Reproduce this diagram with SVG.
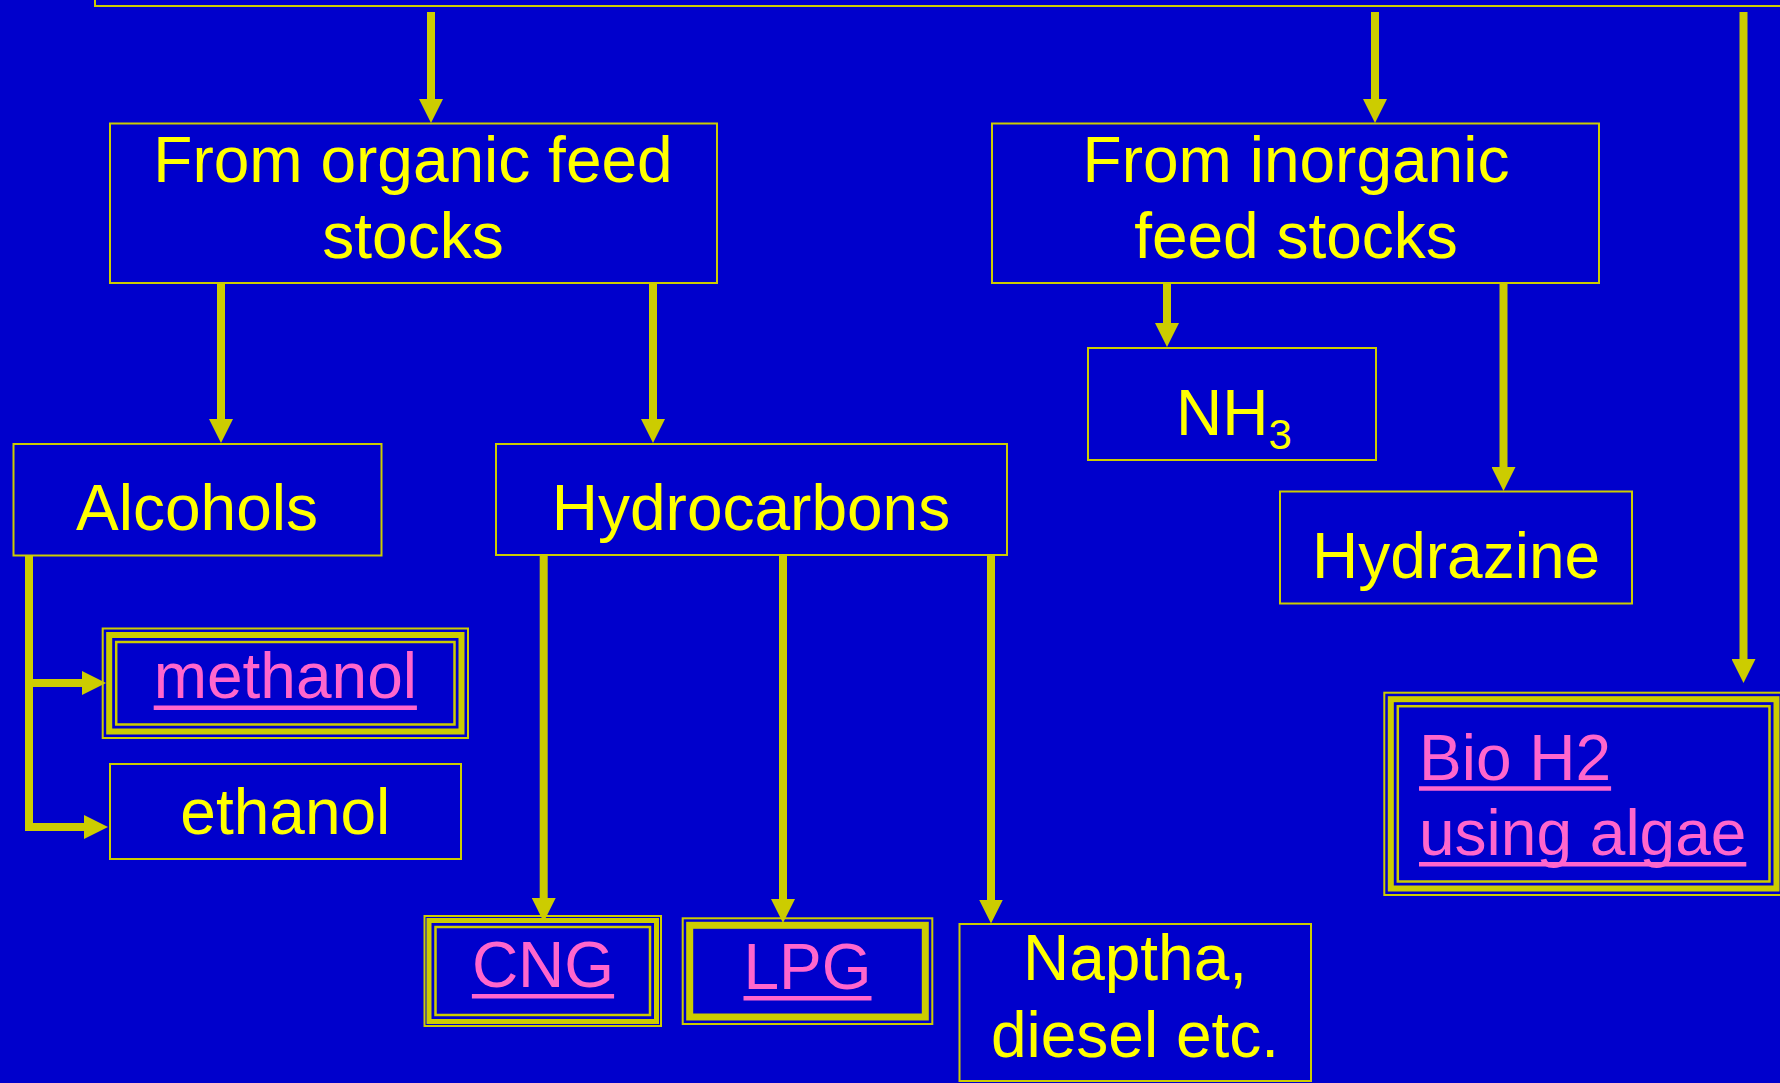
<svg xmlns="http://www.w3.org/2000/svg" width="1780" height="1083" viewBox="0 0 1780 1083">
<defs>
<style>
.box{fill:#0000cc;stroke:#cccc00;stroke-width:2}
.thin{fill:none;stroke:#cccc00;stroke-width:2}
.thin2{fill:none;stroke:#cccc00;stroke-width:2.5}
.thick{fill:none;stroke:#cccc00;stroke-width:6}
.thick5{fill:none;stroke:#cccc00;stroke-width:5}
.thick7{fill:none;stroke:#cccc00;stroke-width:7}
.lbl{font-family:"Liberation Sans",Arial,sans-serif;font-size:64px;fill:#ffff00;text-anchor:middle}
.link{font-family:"Liberation Sans",Arial,sans-serif;font-size:64px;fill:#ff66cc}
.ul{stroke:#ff66cc;stroke-width:4.5;fill:none}
.conn{fill:none;stroke:#cccc00;stroke-width:8;stroke-linejoin:miter}
</style>
<marker id="ah" markerUnits="userSpaceOnUse" markerWidth="24" markerHeight="24" refX="12" refY="12" orient="auto" viewBox="0 0 24 24">
<path d="M0,0 L24,12 L0,24 z" fill="#cccc00"/>
</marker>
</defs>
<rect x="0" y="0" width="1780" height="1083" fill="#0000cc"/>

<g id="top">
<rect class="box" x="95" y="-100" width="1800" height="106"/>
</g>

<g id="connectors">
<path class="conn" d="M431,12 V111" marker-end="url(#ah)"/>
<path class="conn" d="M1375,12 V111" marker-end="url(#ah)"/>
<path class="conn" d="M1743.5,12 V671" marker-end="url(#ah)"/>
<path class="conn" d="M221,284 V431" marker-end="url(#ah)"/>
<path class="conn" d="M653,284 V431" marker-end="url(#ah)"/>
<path class="conn" d="M1167,284 V335" marker-end="url(#ah)"/>
<path class="conn" d="M1503.5,284 V479" marker-end="url(#ah)"/>
<path class="conn" d="M29,556 V827 H96" marker-end="url(#ah)"/>
<path class="conn" d="M29,683 H94" marker-end="url(#ah)"/>
<path class="conn" d="M543.7,556 V910" marker-end="url(#ah)"/>
<path class="conn" d="M783,556 V911" marker-end="url(#ah)"/>
<path class="conn" d="M991,556 V911.5" marker-end="url(#ah)"/>
</g>

<g id="organic">
<rect class="box" x="110" y="123.5" width="607" height="159.5"/>
<text class="lbl" x="413" y="182">From organic feed</text>
<text class="lbl" x="413" y="258">stocks</text>
</g>

<g id="inorganic">
<rect class="box" x="992" y="123.5" width="607" height="159.5"/>
<text class="lbl" x="1296" y="182">From inorganic</text>
<text class="lbl" x="1296" y="258">feed stocks</text>
</g>

<g id="alcohols">
<rect class="box" x="13.5" y="444" width="368" height="111.5"/>
<text class="lbl" x="197" y="530">Alcohols</text>
</g>

<g id="hydrocarbons">
<rect class="box" x="496" y="444" width="511" height="111"/>
<text class="lbl" x="751" y="530">Hydrocarbons</text>
</g>

<g id="nh3">
<rect class="box" x="1088" y="348" width="288" height="112"/>
<text class="lbl" x="1234" y="435">NH<tspan font-size="42" dy="14">3</tspan></text>
</g>

<g id="hydrazine">
<rect class="box" x="1280" y="491.5" width="352" height="112"/>
<text class="lbl" x="1456" y="578">Hydrazine</text>
</g>

<g id="methanol">
<rect class="thin" x="102.7" y="628.5" width="365.3" height="109.5"/>
<rect class="thick" x="109.2" y="635" width="352.3" height="96.5"/>
<rect class="thin2" x="116.2" y="642" width="338.3" height="82.5"/>
<text class="link" x="285.3" y="698" text-anchor="middle">methanol</text>
<line class="ul" x1="153.7" y1="707.8" x2="416.9" y2="707.8"/>
</g>

<g id="ethanol">
<rect class="box" x="110" y="764" width="351" height="95"/>
<text class="lbl" x="285.3" y="834">ethanol</text>
</g>

<g id="cng">
<rect class="thin" x="424.5" y="916" width="236.5" height="110"/>
<rect class="thick5" x="429" y="920.5" width="227.5" height="101"/>
<rect class="thin2" x="435.5" y="927" width="214.5" height="88"/>
<text class="link" x="543" y="987" text-anchor="middle">CNG</text>
<line class="ul" x1="471.9" y1="996.3" x2="614.1" y2="996.3"/>
</g>

<g id="lpg">
<rect class="thin" x="682.7" y="918.3" width="249.6" height="105.7"/>
<rect class="thick7" x="689.7" y="925.3" width="235.6" height="91.7"/>
<text class="link" x="807.5" y="989" text-anchor="middle">LPG</text>
<line class="ul" x1="743.5" y1="998.3" x2="871.5" y2="998.3"/>
</g>

<g id="naptha">
<rect class="box" x="959.5" y="924" width="351.5" height="157"/>
<text class="lbl" x="1135" y="980">Naptha,</text>
<text class="lbl" x="1135" y="1057">diesel etc.</text>
</g>

<g id="bioh2">
<rect class="thin" x="1384.3" y="692.7" width="398.7" height="202.3"/>
<rect class="thick" x="1390.8" y="699.2" width="385.7" height="189.3"/>
<rect class="thin2" x="1397.8" y="706.2" width="371.7" height="175.3"/>
<text class="link" x="1419" y="780">Bio H2</text>
<line class="ul" x1="1419" y1="788.6" x2="1611.1" y2="788.6"/>
<text class="link" x="1419" y="855">using algae</text>
<line class="ul" x1="1419" y1="864.3" x2="1746.3" y2="864.3"/>
</g>
</svg>
